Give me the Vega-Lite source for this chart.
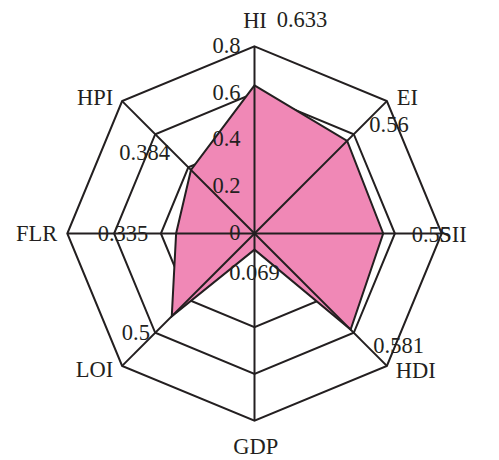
{
  "$schema": "https://vega.github.io/schema/vega-lite/v6.json",
  "width": 499,
  "height": 460,
  "autosize": {"type": "fit", "contains": "padding"},
  "padding": 0,
  "background": "white",
  "config": {
    "view": {"stroke": null},
    "text": {"font": "Liberation Serif", "fontSize": 22.5, "color": "#231f20", "baseline": "alphabetic"}
  },
  "datasets": {
    "axes": [
      {"axis": "HI", "i": 0, "value": 0.633},
      {"axis": "EI", "i": 1, "value": 0.56},
      {"axis": "SII", "i": 2, "value": 0.55},
      {"axis": "HDI", "i": 3, "value": 0.581},
      {"axis": "GDP", "i": 4, "value": 0.069},
      {"axis": "LOI", "i": 5, "value": 0.5},
      {"axis": "FLR", "i": 6, "value": 0.335},
      {"axis": "HPI", "i": 7, "value": 0.384}
    ],
    "rings": [
      {"level": 0.4, "i": 0}, {"level": 0.4, "i": 1}, {"level": 0.4, "i": 2}, {"level": 0.4, "i": 3},
      {"level": 0.4, "i": 4}, {"level": 0.4, "i": 5}, {"level": 0.4, "i": 6}, {"level": 0.4, "i": 7},
      {"level": 0.6, "i": 0}, {"level": 0.6, "i": 1}, {"level": 0.6, "i": 2}, {"level": 0.6, "i": 3},
      {"level": 0.6, "i": 4}, {"level": 0.6, "i": 5}, {"level": 0.6, "i": 6}, {"level": 0.6, "i": 7},
      {"level": 0.8, "i": 0}, {"level": 0.8, "i": 1}, {"level": 0.8, "i": 2}, {"level": 0.8, "i": 3},
      {"level": 0.8, "i": 4}, {"level": 0.8, "i": 5}, {"level": 0.8, "i": 6}, {"level": 0.8, "i": 7}
    ],
    "ticks": [
      {"level": 0, "label": "0"},
      {"level": 0.2, "label": "0.2"},
      {"level": 0.4, "label": "0.4"},
      {"level": 0.6, "label": "0.6"},
      {"level": 0.8, "label": "0.8"}
    ]
  },
  "layer": [
    {
      "data": {"name": "rings"},
      "transform": [
        {"calculate": "datum.level * sin(datum.i * PI / 4)", "as": "x"},
        {"calculate": "datum.level * cos(datum.i * PI / 4)", "as": "y"}
      ],
      "mark": {"type": "line", "interpolate": "linear-closed", "stroke": "#231f20", "strokeWidth": 2, "fill": null},
      "encoding": {
        "x": {"field": "x", "type": "quantitative", "axis": null, "scale": {"domain": [-1.08761, 1.04487], "nice": false, "zero": false}},
        "y": {"field": "y", "type": "quantitative", "axis": null, "scale": {"domain": [-0.96795, 0.99786], "nice": false, "zero": false}},
        "detail": {"field": "level"},
        "order": {"field": "i", "type": "quantitative"}
      }
    },
    {
      "data": {"name": "axes"},
      "transform": [
        {"calculate": "datum.value * sin(datum.i * PI / 4)", "as": "vx"},
        {"calculate": "datum.value * cos(datum.i * PI / 4)", "as": "vy"},
        {"calculate": "0.8 * sin(datum.i * PI / 4)", "as": "ox"},
        {"calculate": "0.8 * cos(datum.i * PI / 4)", "as": "oy"}
      ],
      "layer": [
        {
          "mark": {"type": "line", "interpolate": "linear-closed", "fill": "#F088B6", "stroke": "#231f20", "strokeWidth": 2},
          "encoding": {
            "x": {"field": "vx", "type": "quantitative", "axis": null, "scale": {"domain": [-1.08761, 1.04487], "nice": false, "zero": false}},
            "y": {"field": "vy", "type": "quantitative", "axis": null, "scale": {"domain": [-0.96795, 0.99786], "nice": false, "zero": false}},
            "order": {"field": "i", "type": "quantitative"}
          }
        },
        {
          "mark": {"type": "rule", "stroke": "#231f20", "strokeWidth": 2},
          "encoding": {
            "x": {"field": "ox", "type": "quantitative", "axis": null, "scale": {"domain": [-1.08761, 1.04487], "nice": false, "zero": false}},
            "y": {"field": "oy", "type": "quantitative", "axis": null, "scale": {"domain": [-0.96795, 0.99786], "nice": false, "zero": false}},
            "x2": {"datum": 0},
            "y2": {"datum": 0}
          }
        },
        {"transform": [{"filter": "datum.axis == 'HI'"}], "mark": {"type": "text", "align": "center", "dx": 0.5, "dy": -18},
         "encoding": {"x": {"field": "ox", "type": "quantitative", "axis": null, "scale": {"domain": [-1.08761, 1.04487], "nice": false, "zero": false}}, "y": {"field": "oy", "type": "quantitative", "axis": null, "scale": {"domain": [-0.96795, 0.99786], "nice": false, "zero": false}}, "text": {"field": "axis"}}},
        {"transform": [{"filter": "datum.axis == 'EI'"}], "mark": {"type": "text", "align": "left", "dx": 9.8, "dy": 4},
         "encoding": {"x": {"field": "ox", "type": "quantitative", "axis": null, "scale": {"domain": [-1.08761, 1.04487], "nice": false, "zero": false}}, "y": {"field": "oy", "type": "quantitative", "axis": null, "scale": {"domain": [-0.96795, 0.99786], "nice": false, "zero": false}}, "text": {"field": "axis"}}},
        {"transform": [{"filter": "datum.axis == 'SII'"}], "mark": {"type": "text", "align": "left", "dx": -2.5, "dy": 8.2},
         "encoding": {"x": {"field": "ox", "type": "quantitative", "axis": null, "scale": {"domain": [-1.08761, 1.04487], "nice": false, "zero": false}}, "y": {"field": "oy", "type": "quantitative", "axis": null, "scale": {"domain": [-0.96795, 0.99786], "nice": false, "zero": false}}, "text": {"field": "axis"}}},
        {"transform": [{"filter": "datum.axis == 'HDI'"}], "mark": {"type": "text", "align": "left", "dx": 9, "dy": 12.4},
         "encoding": {"x": {"field": "ox", "type": "quantitative", "axis": null, "scale": {"domain": [-1.08761, 1.04487], "nice": false, "zero": false}}, "y": {"field": "oy", "type": "quantitative", "axis": null, "scale": {"domain": [-0.96795, 0.99786], "nice": false, "zero": false}}, "text": {"field": "axis"}}},
        {"transform": [{"filter": "datum.axis == 'GDP'"}], "mark": {"type": "text", "align": "center", "dx": 1.3, "dy": 33.3},
         "encoding": {"x": {"field": "ox", "type": "quantitative", "axis": null, "scale": {"domain": [-1.08761, 1.04487], "nice": false, "zero": false}}, "y": {"field": "oy", "type": "quantitative", "axis": null, "scale": {"domain": [-0.96795, 0.99786], "nice": false, "zero": false}}, "text": {"field": "axis"}}},
        {"transform": [{"filter": "datum.axis == 'LOI'"}], "mark": {"type": "text", "align": "right", "dx": -8.8, "dy": 11.4},
         "encoding": {"x": {"field": "ox", "type": "quantitative", "axis": null, "scale": {"domain": [-1.08761, 1.04487], "nice": false, "zero": false}}, "y": {"field": "oy", "type": "quantitative", "axis": null, "scale": {"domain": [-0.96795, 0.99786], "nice": false, "zero": false}}, "text": {"field": "axis"}}},
        {"transform": [{"filter": "datum.axis == 'FLR'"}], "mark": {"type": "text", "align": "right", "dx": -10, "dy": 7.2},
         "encoding": {"x": {"field": "ox", "type": "quantitative", "axis": null, "scale": {"domain": [-1.08761, 1.04487], "nice": false, "zero": false}}, "y": {"field": "oy", "type": "quantitative", "axis": null, "scale": {"domain": [-0.96795, 0.99786], "nice": false, "zero": false}}, "text": {"field": "axis"}}},
        {"transform": [{"filter": "datum.axis == 'HPI'"}], "mark": {"type": "text", "align": "right", "dx": -8.8, "dy": 3.9},
         "encoding": {"x": {"field": "ox", "type": "quantitative", "axis": null, "scale": {"domain": [-1.08761, 1.04487], "nice": false, "zero": false}}, "y": {"field": "oy", "type": "quantitative", "axis": null, "scale": {"domain": [-0.96795, 0.99786], "nice": false, "zero": false}}, "text": {"field": "axis"}}},
        {"transform": [{"filter": "datum.axis == 'HI'"}], "mark": {"type": "text", "align": "left", "dx": 22.2, "dy": -58.7},
         "encoding": {"x": {"field": "vx", "type": "quantitative", "axis": null, "scale": {"domain": [-1.08761, 1.04487], "nice": false, "zero": false}}, "y": {"field": "vy", "type": "quantitative", "axis": null, "scale": {"domain": [-0.96795, 0.99786], "nice": false, "zero": false}}, "text": {"field": "value", "type": "quantitative"}}},
        {"transform": [{"filter": "datum.axis == 'EI'"}], "mark": {"type": "text", "align": "left", "dx": 22.1, "dy": -9.1},
         "encoding": {"x": {"field": "vx", "type": "quantitative", "axis": null, "scale": {"domain": [-1.08761, 1.04487], "nice": false, "zero": false}}, "y": {"field": "vy", "type": "quantitative", "axis": null, "scale": {"domain": [-0.96795, 0.99786], "nice": false, "zero": false}}, "text": {"field": "value", "type": "quantitative"}}},
        {"transform": [{"filter": "datum.axis == 'SII'"}], "mark": {"type": "text", "align": "left", "dx": 28.5, "dy": 8.2},
         "encoding": {"x": {"field": "vx", "type": "quantitative", "axis": null, "scale": {"domain": [-1.08761, 1.04487], "nice": false, "zero": false}}, "y": {"field": "vy", "type": "quantitative", "axis": null, "scale": {"domain": [-0.96795, 0.99786], "nice": false, "zero": false}}, "text": {"field": "value", "type": "quantitative"}}},
        {"transform": [{"filter": "datum.axis == 'HDI'"}], "mark": {"type": "text", "align": "left", "dx": 22.7, "dy": 23.7},
         "encoding": {"x": {"field": "vx", "type": "quantitative", "axis": null, "scale": {"domain": [-1.08761, 1.04487], "nice": false, "zero": false}}, "y": {"field": "vy", "type": "quantitative", "axis": null, "scale": {"domain": [-0.96795, 0.99786], "nice": false, "zero": false}}, "text": {"field": "value", "type": "quantitative"}}},
        {"transform": [{"filter": "datum.axis == 'GDP'"}], "mark": {"type": "text", "align": "center", "dx": 0, "dy": 30.4},
         "encoding": {"x": {"field": "vx", "type": "quantitative", "axis": null, "scale": {"domain": [-1.08761, 1.04487], "nice": false, "zero": false}}, "y": {"field": "vy", "type": "quantitative", "axis": null, "scale": {"domain": [-0.96795, 0.99786], "nice": false, "zero": false}}, "text": {"field": "value", "type": "quantitative"}}},
        {"transform": [{"filter": "datum.axis == 'LOI'"}], "mark": {"type": "text", "align": "right", "dx": -21.8, "dy": 23.8},
         "encoding": {"x": {"field": "vx", "type": "quantitative", "axis": null, "scale": {"domain": [-1.08761, 1.04487], "nice": false, "zero": false}}, "y": {"field": "vy", "type": "quantitative", "axis": null, "scale": {"domain": [-0.96795, 0.99786], "nice": false, "zero": false}}, "text": {"field": "value", "type": "quantitative"}}},
        {"transform": [{"filter": "datum.axis == 'FLR'"}], "mark": {"type": "text", "align": "right", "dx": -27.8, "dy": 7.2},
         "encoding": {"x": {"field": "vx", "type": "quantitative", "axis": null, "scale": {"domain": [-1.08761, 1.04487], "nice": false, "zero": false}}, "y": {"field": "vy", "type": "quantitative", "axis": null, "scale": {"domain": [-0.96795, 0.99786], "nice": false, "zero": false}}, "text": {"field": "value", "type": "quantitative"}}},
        {"transform": [{"filter": "datum.axis == 'HPI'"}], "mark": {"type": "text", "align": "right", "dx": -21, "dy": -10},
         "encoding": {"x": {"field": "vx", "type": "quantitative", "axis": null, "scale": {"domain": [-1.08761, 1.04487], "nice": false, "zero": false}}, "y": {"field": "vy", "type": "quantitative", "axis": null, "scale": {"domain": [-0.96795, 0.99786], "nice": false, "zero": false}}, "text": {"field": "value", "type": "quantitative"}}}
      ]
    },
    {
      "data": {"name": "ticks"},
      "mark": {"type": "text", "align": "right", "dx": -14, "dy": 6.5},
      "encoding": {
        "x": {"datum": 0, "type": "quantitative", "axis": null, "scale": {"domain": [-1.08761, 1.04487], "nice": false, "zero": false}},
        "y": {"field": "level", "type": "quantitative", "axis": null, "scale": {"domain": [-0.96795, 0.99786], "nice": false, "zero": false}},
        "text": {"field": "label"}
      }
    }
  ]
}
